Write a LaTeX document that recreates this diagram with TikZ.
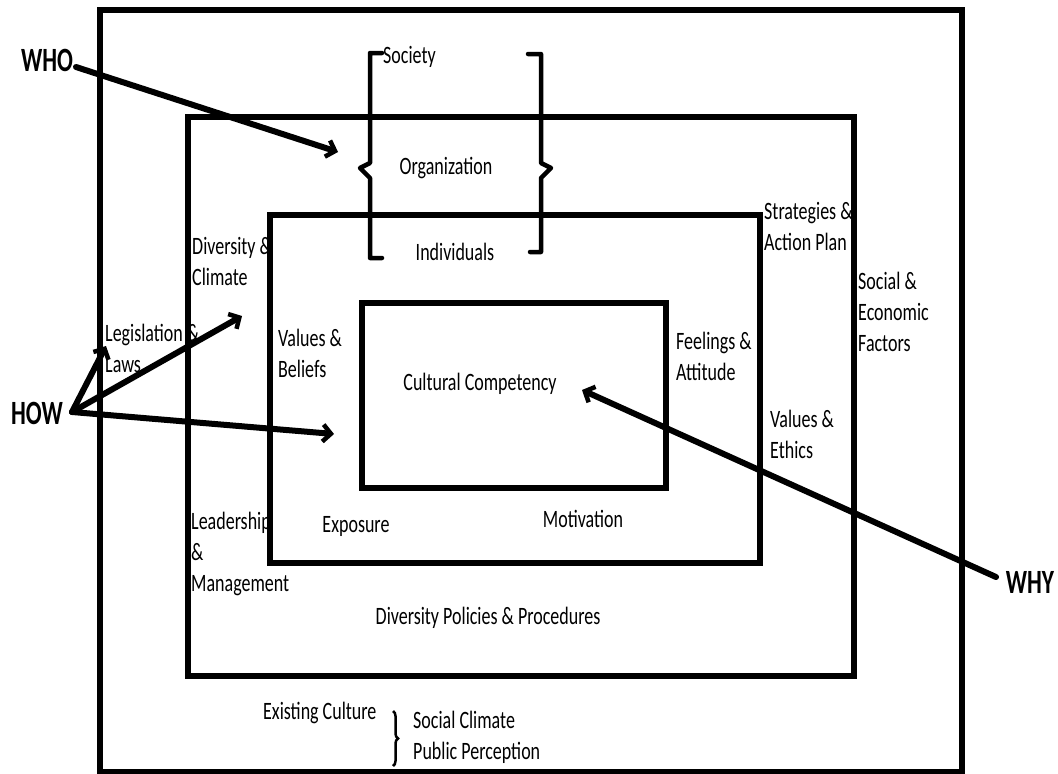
\documentclass[tikz,border=0pt]{standalone}
\usepackage{fontspec}
\setmainfont{Carlito}
\newfontfamily\cf[FakeStretch=0.72]{Carlito}
\newfontfamily\cfb[FakeStretch=0.69]{Carlito}
\usetikzlibrary{arrows.meta,decorations.pathreplacing}
\begin{document}
\begin{tikzpicture}[x=1pt,y=-1pt,
  box/.style={draw=black,line width=5.5pt},
  brk/.style={draw=black,line width=4.5pt,line cap=round,line join=round},
  arr/.style={draw=black,line width=6pt,line cap=round,-{Straight Barb[length=8pt,width=17pt,line width=4.5pt]}},
  lbl/.style={font=\cf\fontsize{25}{31}\selectfont,inner sep=0pt,align=left},
  big/.style={font=\cfb\bfseries\fontsize{34}{40}\selectfont,inner sep=0pt}]
\useasboundingbox (0,0) rectangle (1058,774);
\fill[white] (0,0) rectangle (1058,774);
% boxes
\draw[box] (100,10) rectangle (962,772);
\draw[box] (188,117) rectangle (854,676);
\draw[box] (270,215) rectangle (760,563);
\draw[box] (362,303) rectangle (666,488);
% brackets
\draw[brk] (382,53) -- (370,53) -- (370,163) -- (360,168) -- (370,178) -- (370,258) -- (382,258);
\draw[brk] (528,54) -- (541,54) -- (541,163) -- (551,168) -- (541,178) -- (541,252) -- (530,252);
% labels
\node[lbl,anchor=west] (soc) at (383,57) {Society};
\node[lbl] (org) at (446,168) {Organization};
\node[lbl] (ind) at (455,252) {Individuals};
\node[lbl,anchor=west] (sap) at (764,226) {Strategies \&\\Action Plan};
\node[lbl,anchor=west] (dc) at (192,261) {Diversity \&\\Climate};
\node[lbl,anchor=west] (sef) at (858,312) {Social \&\\Economic\\Factors};
\node[lbl,anchor=west] (leg) at (105,348) {Legislation \&\\Laws};
\node[lbl,anchor=west] (vb) at (278,353) {Values \&\\Beliefs};
\node[lbl] (cc) at (480,384) {Cultural Competency};
\node[lbl,anchor=west] (fa) at (676,356) {Feelings \&\\Attitude};
\node[lbl,anchor=west] (ve) at (770,434) {Values \&\\Ethics};
\node[lbl,anchor=west] (lm) at (191,554) {Leadership\\\&\\Management};
\node[lbl] (exp) at (356,526) {Exposure};
\node[lbl] (mot) at (583,519) {Motivation};
\node[lbl] (dpp) at (488,618) {Diversity Policies \& Procedures};
\node[lbl,anchor=west] (ec) at (263,713) {Existing Culture};
\node[lbl,anchor=west] (scpp) at (413,737) {Social Climate\\Public Perception};
\draw[line width=2.5pt,decorate,decoration={brace,amplitude=5pt}] (393,711) -- (393,766);
% big labels
\node[big] (who) at (47,60) {WHO};
\node[big] (how) at (37,413) {HOW};
\node[big] (why) at (1030,582) {WHY};
% arrows
\coordinate (whoS) at (76,67);
\coordinate (whoE) at (338,152);
\coordinate (howS) at (72,412);
\coordinate (howE1) at (106,346);
\coordinate (howE2) at (242,316);
\coordinate (howE3) at (334,434);
\coordinate (whyS) at (996,577);
\coordinate (whyE) at (582,390);
\draw[arr] (whoS) -- (whoE);
\draw[arr] (howS) -- (howE1);
\draw[arr] (howS) -- (howE2);
\draw[arr] (howS) -- (howE3);
\draw[arr] (whyS) -- (whyE);
\end{tikzpicture}
\end{document}
